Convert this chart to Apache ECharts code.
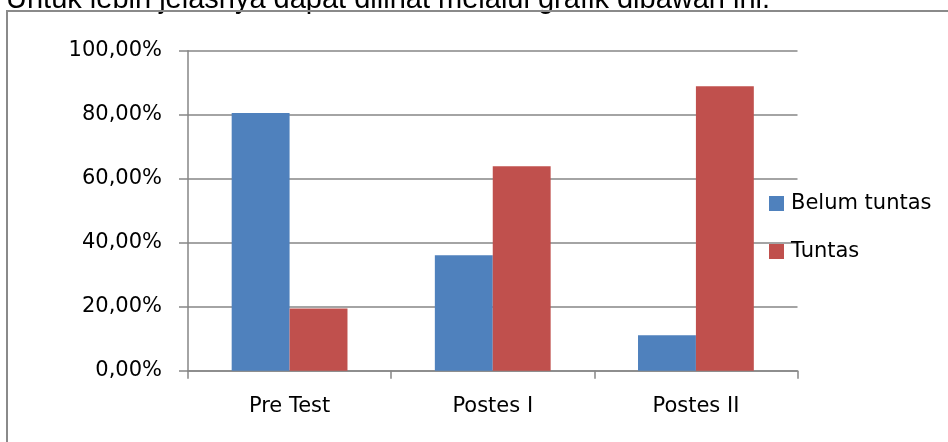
<!DOCTYPE html>
<html>
<head>
<meta charset="utf-8">
<script src="https://cdn.jsdelivr.net/npm/echarts@6/dist/echarts.min.js"></script>
<style>
html, body { margin: 0; padding: 0; background: #fff; }
#chart { width: 948px; height: 442px; }
</style>
</head>
<body>
<div id="chart"></div>
<script>
// data
var categories = ['Pre Test', 'Postes I', 'Postes II'];
var belumTuntas = [80.56, 36.11, 11.11];
var tuntas = [19.44, 63.89, 88.89];
var yTicks = { min: 0, max: 100, interval: 20 };

var myChart = echarts.init(document.getElementById('chart'));
var font = 'DejaVu Sans';

var option = {
    animation: false,
    color: ['#4F81BD', '#C0504D'],
    graphic: [
        {
            type: 'text',
            left: 6, top: -15,
            style: {
                text: 'Untuk lebih jelasnya dapat dilihat melalui grafik dibawah ini.',
                font: '29px "Liberation Sans", Arial, sans-serif',
                fill: '#000'
            }
        },
        {
            type: 'rect',
            shape: { x: 7, y: 11, width: 1000, height: 600 },
            style: { fill: 'none', stroke: '#8a8a8a', lineWidth: 2 }
        }
    ],
    grid: {
        left: 188,
        right: 150.5,
        top: 50.7,
        bottom: 71.3
    },
    legend: {
        orient: 'vertical',
        left: 764,
        top: 188,
        itemWidth: 15,
        itemHeight: 15,
        itemGap: 27,
        icon: 'rect',
        textStyle: { fontFamily: font, fontSize: 21, color: '#000', padding: [0, 0, 0, 2] },
        data: ['Belum tuntas', 'Tuntas']
    },
    xAxis: {
        type: 'category',
        data: categories,
        axisLine: { lineStyle: { color: '#868686', width: 1.5 } },
        axisTick: { show: true, length: 8, lineStyle: { color: '#868686', width: 1.5 } },
        axisLabel: { margin: 25, fontFamily: font, fontSize: 21, color: '#000' }
    },
    yAxis: {
        type: 'value',
        min: yTicks.min,
        max: yTicks.max,
        interval: yTicks.interval,
        axisLine: { show: true, lineStyle: { color: '#868686', width: 1.5 } },
        axisTick: { show: true, length: 9, lineStyle: { color: '#868686', width: 1.5 } },
        splitLine: { lineStyle: { color: '#868686', width: 1.5 } },
        axisLabel: {
            margin: 26,
            fontFamily: font,
            fontSize: 21,
            color: '#000',
            formatter: function (v) {
                return v.toFixed(2).replace('.', ',') + '%';
            }
        }
    },
    series: [
        {
            name: 'Belum tuntas',
            type: 'bar',
            data: belumTuntas,
            barGap: 0,
            barCategoryGap: '43%'
        },
        {
            name: 'Tuntas',
            type: 'bar',
            data: tuntas,
            barGap: 0,
            barCategoryGap: '43%'
        }
    ]
};
myChart.setOption(option);
</script>
</body>
</html>
